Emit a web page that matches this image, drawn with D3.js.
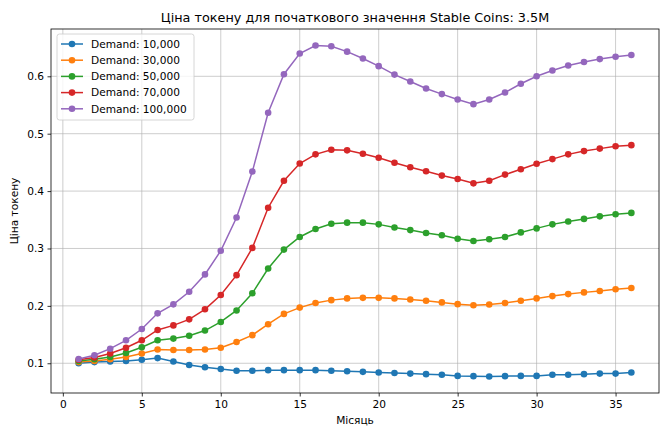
<!DOCTYPE html>
<html>
<head>
<meta charset="utf-8">
<script src="https://cdn.jsdelivr.net/npm/d3@7"></script>
<style>
  html, body { margin: 0; padding: 0; background: #fff; }
  svg { display: block; font-family: "DejaVu Sans", sans-serif; }
</style>
</head>
<body>
<svg id="chart" width="660" height="427"></svg>
<script>
// Months on the x axis
const months = d3.range(1, 37);

// Token price per demand level
const demand10k = [0.100, 0.102, 0.103, 0.104, 0.106, 0.109, 0.103, 0.097, 0.093, 0.090, 0.087, 0.087,
  0.088, 0.088, 0.088, 0.088, 0.087, 0.086, 0.085, 0.084, 0.083, 0.082, 0.081, 0.080,
  0.078, 0.0775, 0.077, 0.0775, 0.078, 0.078, 0.080, 0.080, 0.081, 0.082, 0.082, 0.084];
const demand30k = [0.102, 0.104, 0.107, 0.111, 0.117, 0.124, 0.123, 0.123, 0.124, 0.127, 0.137, 0.149,
  0.168, 0.186, 0.197, 0.205, 0.210, 0.213, 0.214, 0.214, 0.213, 0.211, 0.209, 0.206,
  0.203, 0.201, 0.2025, 0.205, 0.209, 0.213, 0.217, 0.2205, 0.2235, 0.226, 0.229, 0.231];
const demand50k = [0.104, 0.107, 0.111, 0.118, 0.128, 0.140, 0.143, 0.148, 0.157, 0.172, 0.192, 0.222,
  0.265, 0.298, 0.320, 0.334, 0.343, 0.345, 0.345, 0.342, 0.3365, 0.332, 0.327, 0.323,
  0.317, 0.313, 0.316, 0.320, 0.328, 0.335, 0.342, 0.347, 0.3515, 0.356, 0.3597, 0.362];
const demand70k = [0.106, 0.110, 0.117, 0.127, 0.140, 0.158, 0.166, 0.1765, 0.194, 0.219, 0.2535, 0.301,
  0.371, 0.418, 0.448, 0.464, 0.472, 0.471, 0.465, 0.458, 0.4495, 0.4415, 0.4345, 0.427,
  0.421, 0.4135, 0.418, 0.4287, 0.438, 0.4477, 0.4557, 0.464, 0.4697, 0.474, 0.478, 0.480];
const demand100k = [0.1075, 0.114, 0.1254, 0.140, 0.1597, 0.187, 0.2026, 0.2245, 0.2548, 0.296, 0.354, 0.434,
  0.5365, 0.6037, 0.6397, 0.6536, 0.6524, 0.643, 0.631, 0.6177, 0.603, 0.591, 0.5788, 0.569,
  0.5597, 0.5515, 0.5597, 0.5718, 0.587, 0.600, 0.610, 0.6188, 0.625, 0.630, 0.634, 0.637];

const seriesLabels = ["Demand: 10,000", "Demand: 30,000", "Demand: 50,000", "Demand: 70,000", "Demand: 100,000"];
const seriesColors = ["#1f77b4", "#ff7f0e", "#2ca02c", "#d62728", "#9467bd"];
const seriesValues = [demand10k, demand30k, demand50k, demand70k, demand100k];

const xTicks = [0, 5, 10, 15, 20, 25, 30, 35];
const yTicks = [0.1, 0.2, 0.3, 0.4, 0.5, 0.6];

const titleText = "Ціна токену для початкового значення Stable Coins: 3.5M";
const xLabel = "Місяць";
const yLabel = "Ціна токену";

const svg = d3.select("#chart");
const plot = { left: 51, right: 659, top: 29, bottom: 393 };
const fs = 10.6;

// Domains padded by 5% like the plotting default
const allVals = seriesValues.flat();
const yMin = d3.min(allVals), yMax = d3.max(allVals);
const yPad = (yMax - yMin) * 0.05;
const xPad = (36 - 1) * 0.05;

const x = d3.scaleLinear().domain([1 - xPad, 36 + xPad]).range([plot.left, plot.right]);
const y = d3.scaleLinear().domain([yMin - yPad, yMax + yPad]).range([plot.bottom, plot.top]);

// Grid
const grid = svg.append("g");
grid.selectAll("line.vx").data(xTicks).join("line")
  .attr("x1", d => x(d)).attr("x2", d => x(d))
  .attr("y1", plot.top).attr("y2", plot.bottom)
  .attr("stroke", "#b0b0b0").attr("stroke-width", 0.8).attr("stroke-opacity", 0.8);
grid.selectAll("line.hy").data(yTicks).join("line")
  .attr("x1", plot.left).attr("x2", plot.right)
  .attr("y1", d => y(d)).attr("y2", d => y(d))
  .attr("stroke", "#b0b0b0").attr("stroke-width", 0.8).attr("stroke-opacity", 0.8);

// Axes
const xAxis = d3.axisBottom(x).tickValues(xTicks).tickFormat(d3.format("d")).tickSize(3.5).tickPadding(3.5);
const yAxis = d3.axisLeft(y).tickValues(yTicks).tickFormat(d3.format(".1f")).tickSize(3.5).tickPadding(3.5);

const gx = svg.append("g").attr("transform", `translate(0,${plot.bottom})`).call(xAxis);
const gy = svg.append("g").attr("transform", `translate(${plot.left},0)`).call(yAxis);
[gx, gy].forEach(g => {
  g.select(".domain").remove();
  g.selectAll(".tick line").attr("stroke", "#000").attr("stroke-width", 0.8);
  g.selectAll(".tick text").attr("font-family", "DejaVu Sans").attr("font-size", fs).attr("fill", "#000");
});

// Series lines and markers
const line = d3.line().x((d, i) => x(months[i])).y(d => y(d));
seriesValues.forEach((vals, k) => {
  const g = svg.append("g");
  g.append("path").datum(vals).attr("d", line)
    .attr("fill", "none").attr("stroke", seriesColors[k]).attr("stroke-width", 1.5);
  g.selectAll("circle").data(vals).join("circle")
    .attr("cx", (d, i) => x(months[i])).attr("cy", d => y(d)).attr("r", 3.3)
    .attr("fill", seriesColors[k]);
});

// Frame
svg.append("rect")
  .attr("x", plot.left).attr("y", plot.top)
  .attr("width", plot.right - plot.left).attr("height", plot.bottom - plot.top)
  .attr("fill", "none").attr("stroke", "#000").attr("stroke-width", 0.8);

// Title and axis labels
svg.append("text").attr("x", (plot.left + plot.right) / 2).attr("y", 22)
  .attr("text-anchor", "middle").attr("font-size", 12.8).attr("fill", "#000").text(titleText);
svg.append("text").attr("x", (plot.left + plot.right) / 2).attr("y", 424)
  .attr("text-anchor", "middle").attr("font-size", fs).attr("fill", "#000").text(xLabel);
svg.append("text")
  .attr("transform", `translate(18,${(plot.top + plot.bottom) / 2}) rotate(-90)`)
  .attr("text-anchor", "middle").attr("font-size", fs).attr("fill", "#000").text(yLabel);

// Legend
const legend = svg.append("g").attr("transform", "translate(57,34)");
legend.append("rect").attr("width", 137).attr("height", 86).attr("rx", 2.5)
  .attr("fill", "#fff").attr("fill-opacity", 0.8).attr("stroke", "#cccccc").attr("stroke-width", 0.8);
seriesLabels.forEach((lab, k) => {
  const row = legend.append("g").attr("transform", `translate(0,${10 + k * 16.2})`);
  row.append("line").attr("x1", 4).attr("x2", 26).attr("y1", 0).attr("y2", 0)
    .attr("stroke", seriesColors[k]).attr("stroke-width", 1.5);
  row.append("circle").attr("cx", 15).attr("cy", 0).attr("r", 3.3).attr("fill", seriesColors[k]);
  row.append("text").attr("x", 34).attr("y", 0).attr("dy", "0.35em")
    .attr("font-size", fs).attr("fill", "#000").text(lab);
});
</script>
</body>
</html>
